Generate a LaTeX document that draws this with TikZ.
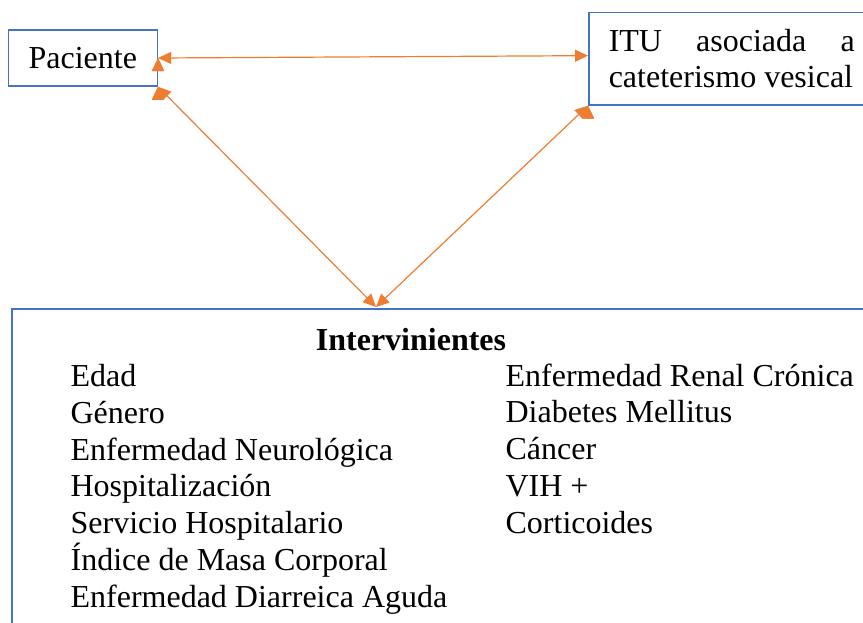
\documentclass[tikz,border=0pt]{standalone}
\usepackage{fontspec}
\setmainfont{Liberation Serif}
\usepackage{xcolor}
\usetikzlibrary{arrows.meta, positioning}

\definecolor{boxblue}{HTML}{4472C4}
\definecolor{linkorange}{HTML}{ED7D31}

\begin{document}
\begin{tikzpicture}[
            x = 0.5pt, y = -0.5pt, % one unit is one pixel of the page
            > = {Triangle[length=6.5pt, width=6pt]}, % arrow head style
            font = \fontsize{16}{18.35}\selectfont,
            line width = 0.6pt % line style
        ]

        \tikzstyle{every box}=[
            draw = boxblue,
            line width = 0.75pt,
            fill = white,
            inner sep = 0pt
        ]
        \tikzstyle{link}=[
            <->,
            draw = linkorange,
            fill = linkorange
        ]

        \useasboundingbox (0,0) rectangle (863,622);

        \node[every box, minimum width = 74.5pt, minimum height = 28pt] (pac) at (82.8,58) {Paciente};
        \node[every box, anchor = north west, text width = 123pt, align = justify,
              inner xsep = 10pt, minimum height = 46.2pt] (itu) at (588,11.7)
              {ITU asociada a cateterismo vesical};
        \node[every box, anchor = north west, minimum width = 460pt, minimum height = 200pt] (interv) at (11,308) {};

        \node[anchor = base, font = \fontsize{16}{18.35}\selectfont\bfseries] (titulo) at (411,350) {Intervinientes};
        % base of these nodes is the baseline of their last line
        \node[anchor = base west, align = left, inner sep = 0pt] (colizq) at (70,607)
            {Edad\\Género\\Enfermedad Neurológica\\Hospitalización\\Servicio Hospitalario\\Índice de Masa Corporal\\Enfermedad Diarreica Aguda};
        \node[anchor = base west, align = left, inner sep = 0pt] (colder) at (505,533)
            {Enfermedad Renal Crónica\\Diabetes Mellitus\\Cáncer\\VIH +\\Corticoides};

        \coordinate (meet) at (376,307);

        \path[link] (pac.east) edge ([yshift=1.5pt]itu.west);
        \path[link] (pac.south east) edge (meet);
        \path[link] (itu.south west) edge (meet);

    \end{tikzpicture}
\end{document}
